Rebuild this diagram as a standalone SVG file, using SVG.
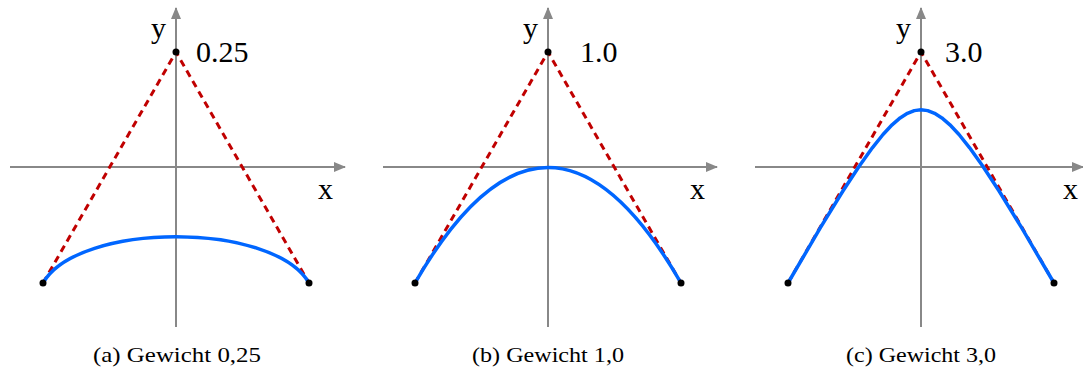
<svg xmlns="http://www.w3.org/2000/svg" width="1083" height="369" viewBox="0 0 1083 369">
<style>
.axis{stroke:#888;stroke-width:2;fill:none}
.ctrl{stroke:#c00000;stroke-width:3;stroke-dasharray:7,5;fill:none}
.curve{stroke:#0066ff;stroke-width:3.5;fill:none;stroke-linejoin:round;stroke-linecap:round}
.lbl{font-family:'Liberation Serif','DejaVu Serif',serif;font-size:30px;fill:#000}
.cap{font-family:'Liberation Serif','DejaVu Serif',serif;font-size:21px;fill:#000;text-anchor:middle}
.pt{fill:#000}
</style>
<defs>
<marker id="ahx" viewBox="0 0 12 12" refX="11" refY="6" markerWidth="12" markerHeight="12" orient="auto" markerUnits="userSpaceOnUse">
<path d="M0,1 L12,6 L0,11 Z" fill="#888"/>
</marker>
</defs>
<g id="connectors">
<line class="axis" x1="10" y1="167" x2="345" y2="167" marker-end="url(#ahx)"/>
<line class="axis" x1="176" y1="327" x2="176" y2="8" marker-end="url(#ahx)"/>
<path class="ctrl" d="M43,283 L176,52 L309,283"/>
<path class="curve" d="M43,283 C78.47,221.4 273.53,221.4 309,283"/>
<line class="axis" x1="383" y1="167" x2="717" y2="167" marker-end="url(#ahx)"/>
<line class="axis" x1="548" y1="327" x2="548" y2="8" marker-end="url(#ahx)"/>
<path class="ctrl" d="M415,283 L548,52 L681,283"/>
<path class="curve" d="M415,283 Q548,52 681,283"/>
<line class="axis" x1="755" y1="167" x2="1083" y2="167" marker-end="url(#ahx)"/>
<line class="axis" x1="921" y1="327" x2="921" y2="8" marker-end="url(#ahx)"/>
<path class="ctrl" d="M788,283 L921,52 L1054,283"/>
<path class="curve" d="M788,283 L804.5,254.8 L820.41,227.68 L842.76,191.28 L859.34,165.97 L872.34,147.78 L883,134.5 L892.09,124.82 L900.11,117.91 L907.43,113.29 L914.32,110.62 L921,109.75 L927.68,110.62 L934.57,113.29 L941.89,117.91 L949.91,124.82 L959,134.5 L969.66,147.78 L982.66,165.97 L999.24,191.28 L1021.59,227.68 L1037.5,254.8 L1054,283"/>
</g>
<g id="panel-a">
<circle class="pt" cx="43" cy="283" r="3.5"/>
<circle class="pt" cx="176" cy="52" r="3.5"/>
<circle class="pt" cx="309" cy="283" r="3.5"/>
<text class="lbl" x="151" y="38">y</text>
<text class="lbl" x="318" y="199">x</text>
<text class="lbl" x="196" y="62">0.25</text>
<text class="cap" x="177" y="362" textLength="168" lengthAdjust="spacingAndGlyphs">(a) Gewicht 0,25</text>
</g>
<g id="panel-b">
<circle class="pt" cx="415" cy="283" r="3.5"/>
<circle class="pt" cx="548" cy="52" r="3.5"/>
<circle class="pt" cx="681" cy="283" r="3.5"/>
<text class="lbl" x="523" y="38">y</text>
<text class="lbl" x="690" y="199">x</text>
<text class="lbl" x="580" y="62">1.0</text>
<text class="cap" x="548" y="362" textLength="152" lengthAdjust="spacingAndGlyphs">(b) Gewicht 1,0</text>
</g>
<g id="panel-c">
<circle class="pt" cx="788" cy="283" r="3.5"/>
<circle class="pt" cx="921" cy="52" r="3.5"/>
<circle class="pt" cx="1054" cy="283" r="3.5"/>
<text class="lbl" x="896" y="38">y</text>
<text class="lbl" x="1063" y="199">x</text>
<text class="lbl" x="945" y="62">3.0</text>
<text class="cap" x="921" y="362" textLength="150" lengthAdjust="spacingAndGlyphs">(c) Gewicht 3,0</text>
</g>
</svg>
